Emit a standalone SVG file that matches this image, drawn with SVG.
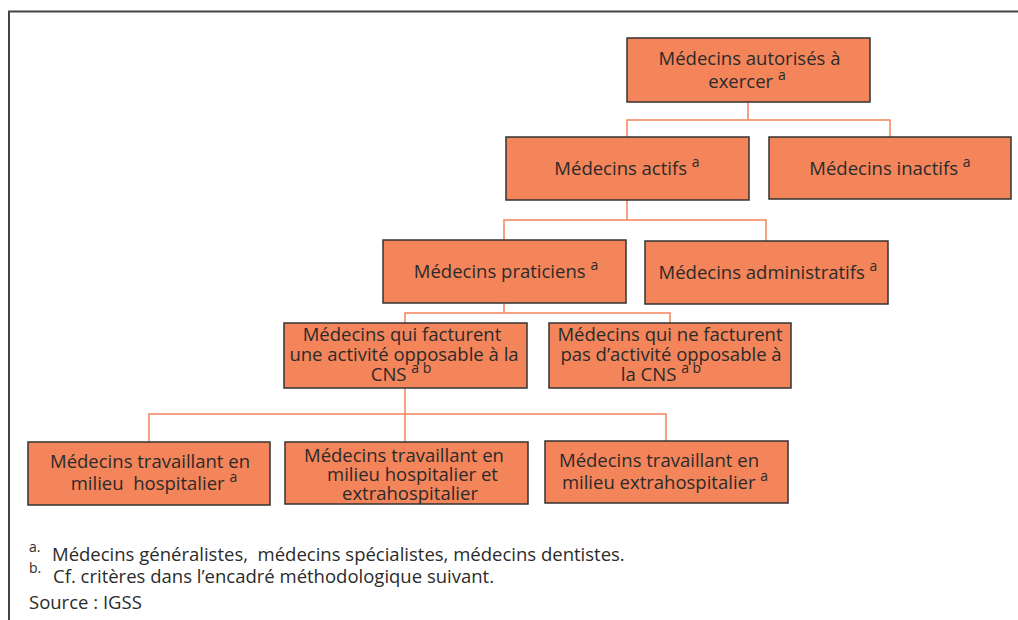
<svg xmlns="http://www.w3.org/2000/svg" width="1018" height="620" viewBox="0 0 1018 620">
<style>
.box{fill:#F4845A;stroke:#333333;stroke-width:1.5}
.t{font-family:"Open Sans","Noto Sans","DejaVu Sans",sans-serif;font-size:18.5px;fill:#2b2b2b;text-anchor:middle}
.l{text-anchor:start}
.sup{font-size:14px}
.con{fill:none;stroke:#F4845A;stroke-width:1.5}
.frame{fill:none;stroke:#444444;stroke-width:2}
</style>
<rect width="1018" height="620" fill="#ffffff"/>
<path class="frame" d="M9 620 V11.5 H1018"/>
<g id="connectors">
<path class="con" d="M748 102 V120 M627 137 V120 H890 V137"/>
<path class="con" d="M627 200 V220 M504 240 V220 H766 V241"/>
<path class="con" d="M504 303 V313 M405 323 V313 H670 V323"/>
<path class="con" d="M405 388 V442 M149 442 V414 H666 V441"/>
</g>
<g id="n1">
<rect class="box" x="627" y="38" width="243" height="64"/>
<text class="t" x="749.5" y="65">Médecins autorisés à</text>
<text class="t" x="747" y="88">exercer <tspan class="sup" dy="-8">a</tspan></text>
</g>
<g id="n2">
<rect class="box" x="506" y="137" width="243" height="63"/>
<text class="t" x="627" y="175">Médecins actifs <tspan class="sup" dy="-8">a</tspan></text>
</g>
<g id="n3">
<rect class="box" x="769" y="137" width="242" height="62"/>
<text class="t" x="890" y="175">Médecins inactifs <tspan class="sup" dy="-8">a</tspan></text>
</g>
<g id="n4">
<rect class="box" x="383" y="240" width="243" height="63"/>
<text class="t" x="506" y="278">Médecins praticiens <tspan class="sup" dy="-8">a</tspan></text>
</g>
<g id="n5">
<rect class="box" x="645" y="241" width="243" height="63"/>
<text class="t" x="768" y="279">Médecins administratifs <tspan class="sup" dy="-8">a</tspan></text>
</g>
<g id="n6">
<rect class="box" x="284" y="323" width="243" height="65"/>
<text class="t" x="402" y="341">Médecins qui facturent</text>
<text class="t" x="404" y="361">une activité opposable à la</text>
<text class="t" x="401" y="381" xml:space="preserve">CNS <tspan class="sup" dy="-8">a b</tspan></text>
</g>
<g id="n7">
<rect class="box" x="549" y="323" width="242" height="65"/>
<text class="t" x="670" y="341">Médecins qui ne facturent</text>
<text class="t" x="671" y="361">pas d’activité opposable à</text>
<text class="t" x="661" y="381" xml:space="preserve">la CNS <tspan class="sup" dy="-8">a b</tspan></text>
</g>
<g id="n8">
<rect class="box" x="28" y="442" width="242" height="63"/>
<text class="t" x="150" y="468">Médecins travaillant en</text>
<text class="t" x="154" y="490" xml:space="preserve">milieu  hospitalier <tspan class="sup" dy="-8">a</tspan></text>
</g>
<g id="n9">
<rect class="box" x="285" y="442" width="243" height="62"/>
<text class="t l" x="304" y="462">Médecins travaillant en</text>
<text class="t l" x="327" y="481">milieu hospitalier et</text>
<text class="t l" x="342" y="500">extrahospitalier</text>
</g>
<g id="n10">
<rect class="box" x="545" y="441" width="243" height="62"/>
<text class="t" x="659" y="467">Médecins travaillant en</text>
<text class="t" x="665" y="489">milieu extrahospitalier <tspan class="sup" dy="-8">a</tspan></text>
</g>
<g id="notes">
<text class="t l sup" x="29" y="552">a.</text>
<text class="t l" x="52" y="561" xml:space="preserve">Médecins généralistes,  médecins spécialistes, médecins dentistes.</text>
<text class="t l sup" x="29" y="573">b.</text>
<text class="t l" x="53" y="583">Cf. critères dans l’encadré méthodologique suivant.</text>
<text class="t l" x="29" y="609">Source : IGSS</text>
</g>
</svg>
